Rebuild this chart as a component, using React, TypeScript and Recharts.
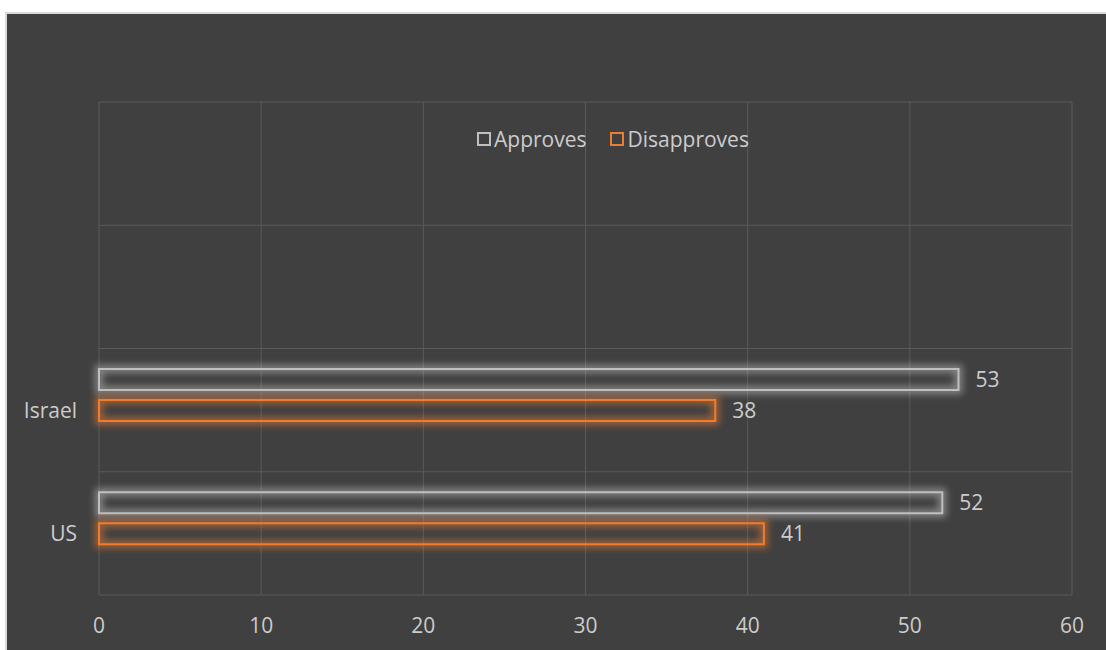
import React from "react";
import { BarChart, Bar, XAxis, YAxis, CartesianGrid, Legend, LabelList } from "recharts";

// rows from the bottom up; the two top rows are empty in the source sheet
const categories = ["US", "Israel", "", ""];
const approves = [52, 53, null, null];
const disapproves = [41, 38, null, null];
const xTicks = [0, 10, 20, 30, 40, 50, 60];

const seriesNames = ["Approves", "Disapproves"];
const seriesColors = ["#bfbfbf", "#ed7d31"];

const data = categories.map((name, i) => ({
  name,
  approves: approves[i],
  disapproves: disapproves[i],
}));

const BAR = 21;
const GAP = 10;
// Excel leaves room for a third (empty) series below, so the pair sits above the row centre
const LIFT = (BAR + GAP) / 2;
const TEXT = "#cccccc";
const FONT = "'Open Sans', sans-serif";
const FS = 21;

const GlowBar = (props: any) => {
  const { x, y, width, height, color } = props;
  if (!width || width <= 0) return null;
  return (
    <g>
      <rect x={x} y={y - LIFT} width={width} height={height} fill="none" stroke={color} strokeWidth={8} opacity={0.55} filter="url(#barGlow)" />
      <rect x={x} y={y - LIFT} width={width} height={height} fill="none" stroke={color} strokeWidth={2} />
    </g>
  );
};

const ValueLabel = (props: any) => {
  const { x, y, width, height, value } = props;
  if (value == null) return null;
  return (
    <text x={x + width + 17} y={y - LIFT + height / 2} dy="0.35em" fill={TEXT} fontSize={FS} fontFamily={FONT}>
      {value}
    </text>
  );
};

const LegendBox = () => (
  <div style={{ display: "flex", alignItems: "center", fontFamily: FONT, fontSize: FS, color: TEXT, lineHeight: "26px" }}>
    {seriesNames.map((n, i) => (
      <div key={n} style={{ display: "flex", alignItems: "center", marginRight: 24 }}>
        <span style={{ width: 10, height: 10, border: `2px solid ${seriesColors[i]}`, marginRight: 3, display: "inline-block" }} />
        <span>{n}</span>
      </div>
    ))}
  </div>
);

export default function App() {
  return (
    <div
      style={{
        position: "absolute",
        left: 5,
        top: 12,
        width: 1101,
        height: 638,
        background: "#404040",
        borderTop: "2px solid #d9d9d9",
        borderLeft: "2px solid #d9d9d9",
        boxSizing: "border-box",
      }}
    >
      <BarChart
        width={1099}
        height={636}
        data={data}
        layout="vertical"
        barSize={BAR}
        barGap={GAP}
        margin={{ top: 88, right: 34, left: 0, bottom: 0 }}
      >
        <defs>
          <filter id="barGlow" x="-10%" y="-150%" width="120%" height="400%">
            <feGaussianBlur stdDeviation="3.5" />
          </filter>
        </defs>
        <CartesianGrid
          stroke="#5a5a5a"
          strokeWidth={1}
          horizontalCoordinatesGenerator={({ offset }: any) =>
            categories.map((_, i) => offset.top + (i * offset.height) / categories.length).concat(offset.top + offset.height)
          }
        />
        <XAxis
          type="number"
          domain={[0, 60]}
          ticks={xTicks}
          axisLine={false}
          tickLine={false}
          tickMargin={17}
          height={55}
          tick={{ fill: TEXT, fontSize: FS, fontFamily: FONT }}
        />
        <YAxis
          type="category"
          dataKey="name"
          reversed
          allowDuplicatedCategory
          axisLine={false}
          tickLine={false}
          width={92}
          tickMargin={16}
          tick={{ fill: TEXT, fontSize: FS, fontFamily: FONT }}
        />
        <Legend
          layout="horizontal"
          verticalAlign="middle"
          align="center"
          wrapperStyle={{ top: 112, left: 470, width: "auto" }}
          content={() => <LegendBox />}
        />
        <Bar dataKey="approves" name={seriesNames[0]} isAnimationActive={false} shape={(p: any) => <GlowBar {...p} color={seriesColors[0]} />}>
          <LabelList dataKey="approves" content={(p: any) => <ValueLabel {...p} />} />
        </Bar>
        <Bar dataKey="disapproves" name={seriesNames[1]} isAnimationActive={false} shape={(p: any) => <GlowBar {...p} color={seriesColors[1]} />}>
          <LabelList dataKey="disapproves" content={(p: any) => <ValueLabel {...p} />} />
        </Bar>
      </BarChart>
    </div>
  );
}
